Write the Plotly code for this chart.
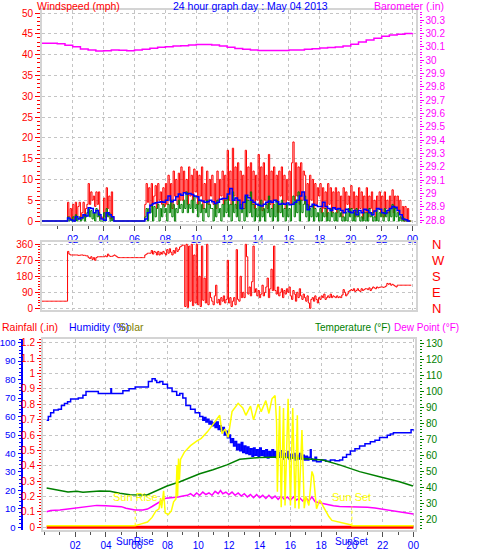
import plotly.graph_objects as go

W, H = 478, 555
FONT = "Liberation Sans, Arial, sans-serif"

# ---------------- data ----------------
# wind, 5-minute samples starting 00:00 (12 per hour)
gust_mph = [
    0, 0, 0, 0, 0, 0, 0, 0, 0, 0, 0, 0,
    0, 0, 0, 0, 0, 0, 0, 0, 4.5, 1, 3, 0.5,
    4, 0, 4.5, 1, 3.5, 4.5, 0.5, 2, 4.5, 1, 3, 4,
    9, 4, 7, 5, 6, 3.5, 7, 4, 7, 0.5, 1, 0.5,
    5.5, 1, 8, 3, 6, 0.5, 7, 1, 0, 0, 0, 0,
    0, 0, 0, 0, 0, 0, 0, 0, 0, 0, 0, 0,
    0, 0, 0, 0, 0, 0, 0, 0, 4, 9, 4.5, 8,
    3.5, 9, 4, 6, 8.5, 3, 9, 5, 7, 4, 8, 3.5,
    9, 4, 11, 5, 9, 3, 12, 6, 10, 4, 11.5, 5,
    13, 5, 12, 7, 10, 4, 13, 6, 11, 5, 12.5, 7,
    12, 4, 11, 6, 13, 3, 9, 5, 12, 4, 10, 6,
    11, 4, 9, 3, 12, 5, 10, 6, 12, 4, 11, 5,
    17, 5, 12, 4, 17.5, 6, 13, 3, 14, 5, 12, 4,
    11, 3, 17, 5, 13, 6, 14, 4, 12, 3, 11, 5,
    16, 4, 13, 2.5, 14, 5, 11, 3, 16, 4, 12, 3,
    13, 5, 11, 2, 12, 6, 13, 4, 11, 3, 10, 5,
    12, 4, 14, 19, 5, 14, 6, 13, 4, 14, 5, 12,
    11, 4, 9, 3, 11, 5, 10, 3, 9, 4, 8, 6,
    9, 2, 8, 3, 7, 1, 9, 4, 8, 2, 7, 3,
    8, 2, 7, 3, 6, 1, 8, 2, 7, 4, 6, 2,
    8.5, 3, 7, 1, 6, 2, 8, 3, 7, 0.5, 6, 2,
    8, 1, 6, 3, 7, 2, 5, 1, 6, 3, 7, 2,
    6, 1, 7, 3, 5, 2, 6, 3, 7.5, 2, 6, 3,
    6, 2, 5, 0.5, 3.5, 0, 3.5, 0, 3, 0, 0, 0,
]
speed_mph = [
    0, 0, 0, 0, 0, 0, 0, 0, 0, 0, 0, 0,
    0, 0, 0, 0, 0, 0, 0, 0, 1, 0, 0.5, 0,
    1, 0, 1.5, 0, 0.5, 1, 0, 0.5, 1.5, 0, 1, 2,
    3, 1, 2.5, 0.5, 2, 0, 3, 1, 2, 0, 0, 0,
    2, 0, 3, 1, 2, 0, 1, 0, 0, 0, 0, 0,
    0, 0, 0, 0, 0, 0, 0, 0, 0, 0, 0, 0,
    0, 0, 0, 0, 0, 0, 0, 0, 1, 3, 0, 3,
    2, 4, 0, 3.5, 1, 3, 4, 0, 3, 1, 4, 2,
    3, 0, 4, 2, 5, 1, 4, 0, 3, 2, 5, 3,
    4, 2, 5, 3, 7, 2, 4, 3, 5, 2, 6, 3,
    4, 1, 5, 2, 4, 0, 3, 2, 5, 1, 4, 3,
    3, 0, 4, 1, 5, 2, 3, 0, 4, 1, 5, 2,
    6, 1, 4, 0, 7, 2, 4, 1, 5, 0, 4, 2,
    3, 0, 6, 1, 5, 2, 7, 1, 4, 0, 3, 1,
    4, 0, 5, 1, 3, 0, 4, 2, 6, 1, 3, 0,
    4, 1, 5, 0, 4, 2, 5, 1, 3, 0, 4, 1,
    3, 0, 4, 6, 1, 5, 2, 7, 0, 5, 2, 4,
    6, 1, 4, 0, 3, 1, 4, 0, 3, 1, 2, 0,
    3, 0, 2, 1, 3, 0, 2, 0, 3, 1, 2, 0,
    2, 0, 3, 1, 2, 0, 1, 0, 2, 0, 3, 1,
    3, 0, 2, 0, 3, 1, 2, 0, 1, 0, 2, 0,
    2, 0, 3, 1, 2, 0, 1, 0, 3, 0, 2, 1,
    2, 0, 3, 1, 2, 0, 3, 1, 4, 0, 3, 1,
    2, 0, 1, 0, 1, 0, 0, 0, 0, 0, 0, 0,
]
wind_dir_deg = [
    40, 40, 40, 40, 40, 40, 40, 40, 40, 40, 40, 40,
    40, 40, 40, 40, 40, 40, 40, 40, 320, 305, 300, 300,
    300, 300, 300, 300, 298, 298, 300, 300, 298, 298, 295, 295,
    285, 280, 290, 275, 285, 270, 285, 290, 290, 290, 290, 290,
    290, 295, 290, 305, 295, 292, 292, 295, 300, 295, 290, 285,
    285, 285, 285, 285, 285, 285, 285, 285, 285, 285, 285, 285,
    285, 285, 285, 285, 285, 285, 285, 285, 300, 305, 310, 310,
    310, 325, 305, 320, 315, 300, 320, 300, 315, 305, 320, 310,
    300, 330, 310, 335, 315, 300, 325, 310, 340, 320, 330, 345,
    350, 355, 355, 10, 360, 5, 350, 40, 360, 15, 300, 30,
    360, 20, 180, 10, 350, 45, 170, 30, 360, 20, 90, 60,
    40, 20, 70, 130, 30, 50, 20, 60, 40, 70, 30, 50,
    270, 30, 60, 10, 40, 60, 20, 330, 50, 40, 180, 60,
    90, 60, 360, 290, 80, 120, 70, 150, 350, 90, 110, 70,
    100, 60, 80, 130, 70, 90, 120, 170, 60, 110, 220, 100,
    350, 100, 80, 120, 70, 90, 110, 60, 100, 80, 110, 90,
    120, 70, 50, 100, 80, 40, 90, 60, 110, 70, 50, 80,
    60, 40, 70, 30, 0, 50, 60, 40, 70, 50, 30, 60,
    50, 70, 60, 80, 50, 60, 70, 60, 80, 60, 70, 65,
    60, 70, 60, 65, 60, 75, 105, 90, 70, 80, 95, 100,
    105, 100, 110, 95, 100, 110, 100, 95, 110, 100, 105, 110,
    110, 105, 115, 100, 110, 120, 115, 110, 120, 115, 118, 120,
    120, 118, 120, 125, 140, 135, 140, 130, 135, 130, 125, 120,
    130, 130, 130, 130, 130, 130, 130, 130, 130, 130, 130, 130,
]
wind_t = [i * 5 / 60 for i in range(len(gust_mph))]

# 10-minute average wind (6 per hour)
avg_mph = [
    0, 0, 0, 0, 0, 0,
    0, 0, 0, 0, 0.7, 0.3,
    0, 1, 0.5, 0.8, 1.5, 1.2,
    3.2, 3, 2, 2.5, 1.5, 0.5,
    0.2, 2, 1.5, 1, 0, 0,
    0, 0, 0, 0, 0, 0,
    0, 0, 0, 0, 0.5, 2,
    3.8, 4.2, 4.4, 4.5, 4.6, 4.5,
    5, 6, 4.6, 5, 5.8, 6.5,
    6.2, 6.8, 6.5, 6.6, 6.4, 6,
    5.8, 5, 4.8, 4.5, 4.6, 5,
    4.6, 4.2, 4.5, 5.2, 5.4, 5.4,
    6.5, 7.8, 5, 5.5, 5, 3,
    4.5, 6.2, 5.6, 5, 4.5, 4,
    3.8, 3.6, 4, 4.5, 4.8, 4.5,
    5, 4.6, 4, 4.2, 4, 4.3,
    3.9, 4, 4.5, 5, 6, 7,
    5, 2.7, 3.5, 4, 3.8, 3.5,
    3.5, 4.5, 3.5, 3, 2.5, 3.2,
    2.8, 3, 2.5, 2, 2.8, 2.2,
    2, 2.5, 1.5, 2.5, 2, 2.8,
    2.6, 2, 1.5, 2.4, 3, 2.8,
    2, 1.8, 2.5, 3, 3.5, 3.3,
    2.5, 1.5, 0.5, 0.3, 0, 0,
]
avg_t = [i * 10 / 60 for i in range(len(avg_mph))]

# barometer, every 30 minutes
baro_in = [
    30.125, 30.125, 30.122, 30.11, 30.1, 30.083, 30.075, 30.068, 30.07, 30.075,
    30.073, 30.07, 30.075, 30.08, 30.088, 30.095, 30.1, 30.105, 30.107, 30.112,
    30.117, 30.117, 30.112, 30.105, 30.095, 30.087, 30.08, 30.075, 30.072, 30.072,
    30.072, 30.072, 30.075, 30.075, 30.08, 30.085, 30.09, 30.093, 30.097, 30.105,
    30.118, 30.135, 30.15, 30.163, 30.178, 30.187, 30.193, 30.198, 30.2,
]
baro_t = [i * 0.5 for i in range(len(baro_in))]

# humidity (%)
hum_t = [0.14, 0.25, 0.4, 0.6, 0.9, 1.1, 1.3, 1.5, 1.7, 2.2, 2.5, 2.7, 3.3, 3.5, 4.3, 4.32, 4.36,
         4.9, 5.1, 5.5, 5.9, 6.5, 6.76, 7.0, 7.2, 7.3, 7.5, 7.7, 8.0, 8.3, 8.6, 8.8, 9.0, 9.2,
         9.5, 9.8, 10.1, 10.3, 10.4, 10.5, 10.6, 10.7, 10.8, 10.9, 11.0, 11.1, 11.2, 11.3, 11.4,
         11.5, 11.6, 11.7, 11.8, 11.9, 12.0, 12.1, 12.2, 12.3, 12.4, 12.5, 12.6, 12.7, 12.8,
         12.9, 13.0, 13.1, 13.2, 13.3, 13.4, 13.5, 13.6, 13.7, 13.8, 13.9, 14.0, 14.1, 14.2,
         14.3, 14.4, 14.5, 14.6, 14.7, 14.8, 14.9, 15.0, 15.1, 15.2, 15.3, 15.4, 15.5, 15.6,
         15.7, 15.8, 15.9, 16.0, 16.1, 16.2, 16.3, 16.4, 16.5, 16.6, 16.7, 16.8, 16.9, 17.0,
         17.1, 17.2, 17.3, 17.35, 17.45, 17.6, 17.7, 18.0, 18.3, 18.6, 18.9, 19.2, 19.4, 19.65,
         19.9, 20.2, 20.5, 20.85, 21.2, 21.5, 21.8, 22.3, 22.5, 22.7, 23.7, 23.85, 24.0]
hum_pct = [58, 60, 62, 63.5, 64, 66, 67, 68, 69.5, 70, 71.5, 73.5, 73.5, 72.5, 72.5, 75, 72.5,
           72.5, 74, 75, 76, 76, 79, 80.5, 79.5, 78.5, 79, 77.5, 75.5, 73.5, 71.5, 72.5, 70, 66,
           64, 62, 60, 58, 59.5, 57, 58.5, 56, 57.5, 55, 56.5, 54, 57, 53, 55,
           52, 54, 50, 52, 48.5, 50, 46, 48, 44, 46.5, 42, 45, 41.5, 46,
           40.5, 44, 40, 43.5, 39.5, 42.5, 38.5, 43, 39, 42, 38, 43, 39, 41.5,
           38, 42, 37.5, 41, 38.5, 42, 38, 41, 37.5, 40.5, 38, 41.5, 37, 40,
           38, 41, 37, 39.5, 37.5, 40, 36.5, 39, 37, 40, 37, 39, 36.5, 38.5,
           36.5, 38, 42, 37, 36, 38, 35.5, 36.5, 35.8, 36.5, 36, 36.5, 38, 39.5,
           41.3, 42.6, 44, 45.3, 46.3, 47.2, 48.6, 49.8, 50.5, 51.2, 51.2, 52.8, 53]

# temperature (F)
temp_t = [0.14, 0.88, 1.53, 2.1, 2.5, 3.6, 4.26, 4.9, 5.56, 6.67, 7.5, 7.97, 8.81, 9.46,
          10.1, 10.96, 11.87, 12.7, 14.0, 15.3, 17.3, 18.1, 19.2, 20.5, 21.8, 23.1, 23.97]
temp_f = [39.6, 38.3, 37, 37.5, 36.9, 37.7, 37.5, 36.3, 35.3, 35.2, 38.5, 40.8, 43.5, 46,
          48.5, 51, 54, 57.5, 58.7, 59, 57.7, 57, 54, 49.8, 46.6, 43.5, 40.8]

# dew point (F)
dew_t = [0.14, 0.4, 1.0, 1.45, 2.3, 3.0, 3.4, 4.0, 4.5, 5.0, 5.3, 5.9, 6.4, 6.7, 7.0, 7.3,
         7.6, 7.9, 8.3, 8.7, 9.0, 9.3, 9.5, 9.7, 9.9, 10.1, 10.3, 10.5, 10.7, 10.9, 11.1,
         11.3, 11.45, 11.6, 11.8, 12.0, 12.2, 12.4, 12.6, 12.8, 13.0, 13.2, 13.4, 13.6,
         13.8, 14.0, 14.2, 14.4, 14.6, 14.8, 15.0, 15.2, 15.4, 15.6, 15.8, 16.0, 16.2,
         16.4, 16.6, 16.8, 17.0, 17.2, 17.4, 17.6, 17.8, 18.1, 18.4, 18.8, 19.2, 19.7,
         20.3, 21.0, 21.5, 22.0, 22.3, 23.0, 23.5, 23.8, 24.0]
dew_f = [24.7, 25.5, 25.8, 26.4, 27.2, 28.3, 28.7, 28.5, 28.3, 27.9, 26.9, 25.8, 25.8, 26.4,
         28.0, 30, 31.5, 33.2, 33.5, 34, 34.5, 35, 36, 34.5, 36.5, 35, 37, 35.5, 36.5, 35,
         37.5, 36, 38, 36, 37, 35.5, 37, 35, 36.5, 34.5, 36, 34, 35.5, 33.5, 35.5, 33.5,
         35, 33, 35, 33, 34.5, 32.5, 34.5, 32.5, 34, 32, 34, 32, 33.5, 31.5, 33.5, 31.5,
         34, 31, 30.5, 29.8, 29, 28.5, 28, 27.9, 27.9, 27.5, 27, 26.2, 25.8, 25, 24,
         23.3, 23.3]

# solar radiation (W/m2)
solar_t = [0.14, 5.9, 6.3, 6.7, 7.0, 7.25, 7.45, 7.55, 7.62, 7.75, 7.85, 8.05, 8.25, 8.4,
           8.55, 8.62, 8.66, 8.72, 8.78, 8.85, 9.1, 9.5, 9.9, 10.2, 10.6, 11.0, 11.3, 11.4,
           11.55, 11.75, 11.95, 12.1, 12.2, 12.6, 12.9, 13.1, 13.4, 13.6, 13.9, 14.1, 14.4,
           14.6, 14.8, 15.0, 15.1, 15.15, 15.3, 15.4, 15.55, 15.65, 15.85, 16.0, 16.15,
           16.3, 16.45, 16.55, 16.75, 16.9, 17.0, 17.2, 17.4, 17.5, 17.7, 17.9, 18.1, 18.3,
           18.5, 18.7, 19.0, 19.5, 19.7, 19.9, 20.0, 24.0]
solar_wm2 = [0, 0, 10, 20, 45, 80, 92, 150, 95, 190, 70, 60, 80, 130,
             145, 330, 160, 365, 250, 360, 400, 435, 460, 475, 510, 555, 585, 600,
             500, 525, 480, 560, 620, 665, 640, 600, 650, 575, 660, 620, 680,
             610, 690, 708, 560, 185, 650, 100, 640, 110, 690, 110, 640,
             95, 600, 92, 520, 95, 160, 110, 295, 270, 92, 140, 110, 83,
             50, 29, 24, 15, 11, 5, 0, 0]

# rainfall (in)
rain_t = [0.14, 24.0]
rain_in = [0, 0]

sunrise_h = 5.9
sunset_h = 20.0

hour_ticks = [2, 4, 6, 8, 10, 12, 14, 16, 18, 20, 22, 24]
hour_labels = ["02", "04", "06", "08", "10", "12", "14", "16", "18", "20", "22", "00"]
wind_ticks = [0, 5, 10, 15, 20, 25, 30, 35, 40, 45, 50]
baro_ticks = [28.8, 28.9, 29.0, 29.1, 29.2, 29.3, 29.4, 29.5, 29.6, 29.7, 29.8, 29.9,
              30.0, 30.1, 30.2, 30.3]
baro_labels = ["28.8", "28.9", "29", "29.1", "29.2", "29.3", "29.4", "29.5", "29.6", "29.7",
               "29.8", "29.9", "30", "30.1", "30.2", "30.3"]
dir_ticks = [0, 90, 180, 270, 360]
dir_letters = ["N", "E", "S", "W", "N"]
rain_ticks = [0, 0.1, 0.2, 0.3, 0.4, 0.5, 0.6, 0.7, 0.8, 0.9, 1.0, 1.1, 1.2]
rain_labels = ["0", "0.1", "0.2", "0.3", "0.4", "0.5", "0.6", "0.7", "0.8", "0.9", "1", "1.1", "1.2"]
hum_ticks = [0, 10, 20, 30, 40, 50, 60, 70, 80, 90, 100]
temp_ticks = [20, 30, 40, 50, 60, 70, 80, 90, 100, 110, 120, 130]

RED = "#ff0000"
BLUE = "#0000ff"
GREEN = "#008000"
MAG = "#ff00ff"
YEL = "#ffff00"
OLIVE = "#808000"
GRID = "#c4c4c4"
FRAME = "#d4d4d4"


def px(x):
    return x / W


def py(y):
    return 1 - y / H


fig = go.Figure()

# ---- top panel: wind + barometer
fig.add_trace(go.Scatter(x=wind_t, y=gust_mph, mode="lines", line=dict(color=RED, width=1, shape="hv"),
                         xaxis="x", yaxis="y", hoverinfo="skip"))
fig.add_trace(go.Scatter(x=wind_t, y=speed_mph, mode="lines", line=dict(color=GREEN, width=1, shape="hv"),
                         xaxis="x", yaxis="y", hoverinfo="skip"))
fig.add_trace(go.Scatter(x=avg_t, y=avg_mph, mode="lines", line=dict(color=BLUE, width=1.5, shape="hv"),
                         xaxis="x", yaxis="y", hoverinfo="skip"))
fig.add_trace(go.Scatter(x=baro_t, y=baro_in, mode="lines", line=dict(color=MAG, width=1.5, shape="hv"),
                         xaxis="x", yaxis="y2", hoverinfo="skip"))
# ---- wind direction panel
fig.add_trace(go.Scatter(x=wind_t, y=wind_dir_deg, mode="lines", line=dict(color=RED, width=1, shape="hv"),
                         xaxis="x2", yaxis="y3", hoverinfo="skip"))
fig.add_trace(go.Scatter(x=[None], y=[None], mode="lines", xaxis="x2", yaxis="y4", hoverinfo="skip"))
# ---- bottom panel
fig.add_trace(go.Scatter(x=rain_t, y=rain_in, mode="lines", line=dict(color=RED, width=3),
                         xaxis="x3", yaxis="y5", hoverinfo="skip"))
fig.add_trace(go.Scatter(x=temp_t, y=temp_f, mode="lines", line=dict(color=GREEN, width=1.5),
                         xaxis="x3", yaxis="y7", hoverinfo="skip"))
fig.add_trace(go.Scatter(x=hum_t, y=hum_pct, mode="lines", line=dict(color=BLUE, width=1.5, shape="hv"),
                         xaxis="x3", yaxis="y6", hoverinfo="skip"))
fig.add_trace(go.Scatter(x=dew_t, y=dew_f, mode="lines", line=dict(color=MAG, width=1.5),
                         xaxis="x3", yaxis="y7", hoverinfo="skip"))
fig.add_trace(go.Scatter(x=solar_t, y=solar_wm2, mode="lines", line=dict(color=YEL, width=1.5),
                         xaxis="x3", yaxis="y8", hoverinfo="skip"))

tickfont_x = dict(color=BLUE, size=10, family=FONT)


def xaxis_common(dom, rng, anchor, labels=True):
    return dict(domain=dom, range=rng, anchor=anchor, tickmode="array", tickvals=hour_ticks,
                ticktext=hour_labels, showticklabels=labels, ticks="outside" if labels else "",
                ticklen=5, tickcolor="#505050", tickfont=tickfont_x, showgrid=True, gridcolor=GRID,
                griddash="dot", gridwidth=1, showline=True, linecolor=FRAME, linewidth=2, mirror=True,
                zeroline=False, automargin=False, fixedrange=True,
                minor=dict(tickmode="linear", tick0=0, dtick=1, ticks="outside" if labels else "",
                           ticklen=3, tickcolor="#505050", showgrid=False))


TOP_DOM = [py(223.5), py(10)]
DIR_DOM = [py(310), py(242.3)]
BOT_DOM = [py(529.5), py(339)]

layout = dict(
    width=W, height=H, margin=dict(l=0, r=0, t=0, b=0, pad=0), template="none",
    paper_bgcolor="white", plot_bgcolor="white", showlegend=False,
    font=dict(family=FONT, size=10),
    xaxis=xaxis_common([px(42), px(415.5)], [0.013, 24.19], "y"),
    xaxis2=xaxis_common([px(42), px(415.5)], [0.013, 24.19], "y3", labels=False),
    xaxis3=xaxis_common([px(43), px(415)], [-0.0976, 24.105], "y5"),
    yaxis=dict(domain=TOP_DOM, range=[-0.6, 50.72], anchor="x", tickmode="array", tickvals=wind_ticks,
               ticks="outside", ticklen=5, tickcolor=RED, tickfont=dict(color=RED, size=10),
               showgrid=True, gridcolor=GRID, griddash="dot", showline=True, linecolor=FRAME,
               linewidth=2, mirror=True, zeroline=False, automargin=False, fixedrange=True,
               minor=dict(tickmode="linear", tick0=0, dtick=1, ticks="outside", ticklen=3,
                          tickcolor=RED, showgrid=False)),
    yaxis2=dict(overlaying="y", anchor="free", position=px(418.5), side="right",
                range=[28.774, 30.375], tickmode="array", tickvals=baro_ticks, ticktext=baro_labels,
                ticks="outside", ticklen=4, tickcolor=MAG, tickfont=dict(color=MAG, size=10),
                showgrid=False, showline=False, zeroline=False, automargin=False, fixedrange=True,
                minor=dict(tickmode="linear", tick0=28.8, dtick=0.02, ticks="outside", ticklen=2,
                           tickcolor=MAG, showgrid=False)),
    yaxis3=dict(domain=DIR_DOM, range=[-9.56, 371.25], anchor="x2", tickmode="array", tickvals=dir_ticks,
                ticks="outside", ticklen=5, tickcolor=RED, tickfont=dict(color=RED, size=10),
                showgrid=True, gridcolor=GRID, griddash="dot", showline=True, linecolor=FRAME,
                linewidth=2, mirror=True, zeroline=False, automargin=False, fixedrange=True,
                minor=dict(tickmode="linear", tick0=0, dtick=15, ticks="outside", ticklen=2,
                           tickcolor=RED, showgrid=False)),
    yaxis4=dict(overlaying="y3", anchor="free", position=px(431), side="right",
                range=[-9.56, 371.25], tickmode="array", tickvals=dir_ticks, ticktext=dir_letters,
                ticks="", tickfont=dict(color=RED, size=13), showgrid=False, showline=False,
                zeroline=False, automargin=False, fixedrange=True),
    yaxis5=dict(domain=BOT_DOM, range=[-0.0143, 1.224], anchor="x3", tickmode="array",
                tickvals=rain_ticks, ticktext=rain_labels, ticks="outside", ticklen=4, tickcolor=RED,
                tickfont=dict(color=RED, size=10), showgrid=True, gridcolor=GRID, griddash="dot",
                showline=True, linecolor=FRAME, linewidth=2, mirror=True, zeroline=False,
                automargin=False, fixedrange=True,
                minor=dict(tickmode="linear", tick0=0, dtick=0.02, ticks="outside", ticklen=2,
                           tickcolor=RED, showgrid=False)),
    yaxis6=dict(overlaying="y5", anchor="free", position=px(21.5), side="left", range=[-1.19, 102],
                tickmode="array", tickvals=hum_ticks, ticks="outside", ticklen=3, tickcolor=BLUE,
                tickfont=dict(color=BLUE, size=9.5), showgrid=False, showline=True, linecolor=BLUE,
                linewidth=2, zeroline=False, automargin=False, fixedrange=True,
                minor=dict(tickmode="linear", tick0=0, dtick=2, ticks="outside", ticklen=2,
                           tickcolor=BLUE, showgrid=False)),
    yaxis7=dict(overlaying="y5", anchor="free", position=px(419), side="right", range=[13.625, 132.69],
                tickmode="array", tickvals=temp_ticks, ticks="outside", ticklen=4, tickcolor=GREEN,
                tickfont=dict(color=GREEN, size=10), showgrid=False, showline=False, zeroline=False,
                automargin=False, fixedrange=True,
                minor=dict(tickmode="linear", tick0=20, dtick=2, ticks="outside", ticklen=2,
                           tickcolor=GREEN, showgrid=False)),
    yaxis8=dict(overlaying="y5", range=[-20.7, 1014.7], visible=False, fixedrange=True),
)
fig.update_layout(**layout)


def head(text, x, y, color, anchor="left", size=10.5):
    fig.add_annotation(text=text, x=px(x), y=py(y), xref="paper", yref="paper", showarrow=False,
                       xanchor=anchor, yanchor="middle", font=dict(color=color, size=size, family=FONT))


head("Windspeed (mph)", 35, 6.5, RED)
head("24 hour graph day : May 04 2013", 250, 6.5, BLUE, anchor="center")
head("Barometer (.in)", 372, 6.5, MAG)
head("Rainfall (.in)", 0, 327, RED)
head("Humidity (%)", 67, 327, BLUE)
head("Solar", 117, 327, OLIVE)
head("Temperature (°F)", 313, 327, GREEN, size=10)
head("Dew Point (°F)", 392, 327, MAG, size=10)

for hr, txt, txt2 in [(sunrise_h, "Sun Rise", "SunRise"), (sunset_h, "Sun Set", "SunSet")]:
    fig.add_annotation(text=txt, x=hr, xref="x3", y=py(497.5), yref="paper", showarrow=False,
                       xanchor="center", yanchor="middle", font=dict(color=YEL, size=11, family=FONT))
    fig.add_annotation(text=txt2, x=hr, xref="x3", y=py(541), yref="paper", showarrow=False,
                       xanchor="center", yanchor="middle", font=dict(color=BLUE, size=10, family=FONT))
    fig.add_shape(type="line", x0=hr, x1=hr, xref="x3", y0=0, y1=105, yref="y8",
                  line=dict(color=YEL, width=1, dash="dot"))

fig.write_html("out.html")
